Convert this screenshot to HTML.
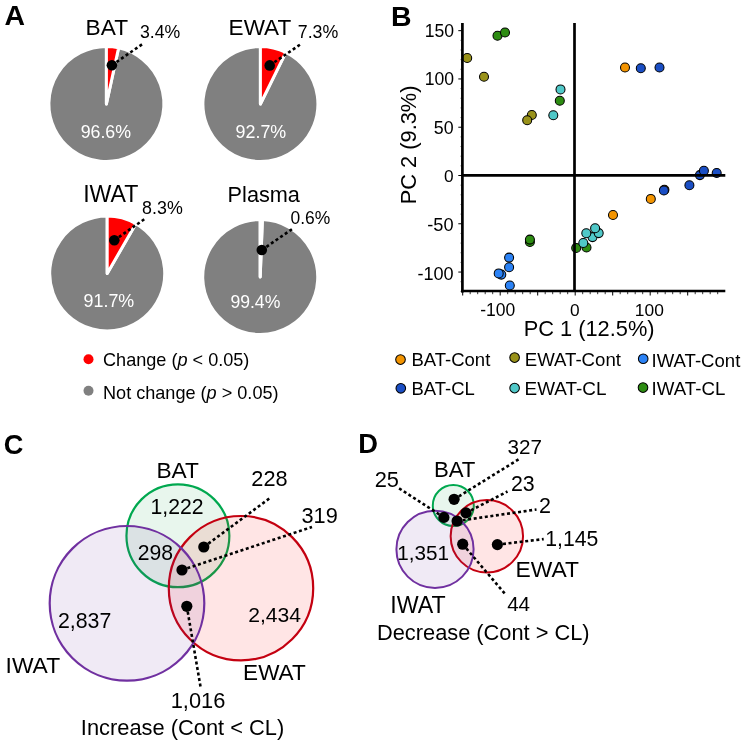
<!DOCTYPE html>
<html><head><meta charset="utf-8"><style>
html,body{margin:0;padding:0;background:#fff;width:747px;height:741px;overflow:hidden}
svg{display:block;will-change:transform}
text{font-family:"Liberation Sans",sans-serif}
</style></head><body>
<svg width="747" height="741" viewBox="0 0 747 741">
<rect width="747" height="741" fill="#fff"/>
<path d="M106.4,104 L118.59,47.81 A57.5,57.5 0 1 1 106.4,46.5 Z" fill="#808080" stroke="#fff" stroke-width="3" stroke-linejoin="round"/>
<path d="M106.4,104 L106.4,46.5 A57.5,57.5 0 0 1 118.59,47.81 Z" fill="#ff0000" stroke="#fff" stroke-width="3" stroke-linejoin="round"/>
<line x1="111.9" y1="65.2" x2="144" y2="43" stroke="#000" stroke-width="2.6" stroke-dasharray="3 2.6"/>
<circle cx="111.9" cy="65.2" r="5.3" fill="#000"/>
<path d="M260.4,104 L285.86,52.44 A57.5,57.5 0 1 1 260.4,46.5 Z" fill="#808080" stroke="#fff" stroke-width="3" stroke-linejoin="round"/>
<path d="M260.4,104 L260.4,46.5 A57.5,57.5 0 0 1 285.86,52.44 Z" fill="#ff0000" stroke="#fff" stroke-width="3" stroke-linejoin="round"/>
<line x1="269.7" y1="65.4" x2="301" y2="44" stroke="#000" stroke-width="2.6" stroke-dasharray="3 2.6"/>
<circle cx="269.7" cy="65.4" r="5.3" fill="#000"/>
<path d="M107.2,273.5 L135.85,223.64 A57.5,57.5 0 1 1 107.2,216.0 Z" fill="#808080" stroke="#fff" stroke-width="3" stroke-linejoin="round"/>
<path d="M107.2,273.5 L107.2,216.0 A57.5,57.5 0 0 1 135.85,223.64 Z" fill="#ff0000" stroke="#fff" stroke-width="3" stroke-linejoin="round"/>
<line x1="114.3" y1="240.3" x2="146" y2="218" stroke="#000" stroke-width="2.6" stroke-dasharray="3 2.6"/>
<circle cx="114.3" cy="240.3" r="5.3" fill="#000"/>
<path d="M260.2,277 L262.37,219.54 A57.5,57.5 0 1 1 260.2,219.5 Z" fill="#808080" stroke="#fff" stroke-width="3" stroke-linejoin="round"/>
<path d="M260.2,277 L260.2,219.5 A57.5,57.5 0 0 1 262.37,219.54 Z" fill="#ff0000" stroke="#fff" stroke-width="3" stroke-linejoin="round"/>
<line x1="261.8" y1="250" x2="293.3" y2="228.3" stroke="#000" stroke-width="2.6" stroke-dasharray="3 2.6"/>
<circle cx="261.8" cy="250" r="5.3" fill="#000"/>
<text x="4.57" y="25.05" font-size="28.38" font-weight="bold" fill="#000">A</text>
<text x="85.60" y="35.05" font-size="22.71" fill="#000">BAT</text>
<text x="140.03" y="38.05" font-size="17.69" fill="#000">3.4%</text>
<text x="80.65" y="137.65" font-size="17.80" fill="#fff">96.6%</text>
<text x="228.62" y="35.25" font-size="22.54" fill="#000">EWAT</text>
<text x="297.78" y="38.15" font-size="17.80" fill="#000">7.3%</text>
<text x="235.60" y="138.25" font-size="17.87" fill="#fff">92.7%</text>
<text x="83.15" y="202.40" font-size="23.15" fill="#000">IWAT</text>
<text x="142.12" y="213.50" font-size="17.85" fill="#000">8.3%</text>
<text x="83.60" y="306.75" font-size="17.87" fill="#fff">91.7%</text>
<text x="227.60" y="202.38" font-size="21.70" fill="#000">Plasma</text>
<text x="290.53" y="223.63" font-size="17.46" fill="#000">0.6%</text>
<text x="230.40" y="307.62" font-size="17.62" fill="#fff">99.4%</text>
<circle cx="88.5" cy="359.3" r="5" fill="#ff0000"/>
<circle cx="88.5" cy="390.7" r="5" fill="#808080"/>
<text x="103" y="366.3" font-size="18.1">Change (<tspan font-style="italic">p</tspan> &lt; 0.05)</text>
<text x="103" y="399.3" font-size="18.1">Not change (<tspan font-style="italic">p</tspan> &gt; 0.05)</text>
<text x="391.12" y="25.87" font-size="28.47" font-weight="bold" fill="#000">B</text>
<circle cx="467.2" cy="58.0" r="4.5" fill="#99921a" stroke="#000" stroke-width="1.05"/>
<circle cx="484" cy="76.7" r="4.5" fill="#99921a" stroke="#000" stroke-width="1.05"/>
<circle cx="531.8" cy="115" r="4.5" fill="#99921a" stroke="#000" stroke-width="1.05"/>
<circle cx="527.2" cy="120.3" r="4.5" fill="#99921a" stroke="#000" stroke-width="1.05"/>
<circle cx="497.5" cy="35.8" r="4.5" fill="#2d8c12" stroke="#000" stroke-width="1.05"/>
<circle cx="505" cy="32.5" r="4.5" fill="#2d8c12" stroke="#000" stroke-width="1.05"/>
<circle cx="560.5" cy="89.4" r="4.5" fill="#50c8c8" stroke="#000" stroke-width="1.05"/>
<circle cx="559.8" cy="100.8" r="4.5" fill="#2d8c12" stroke="#000" stroke-width="1.05"/>
<circle cx="553.3" cy="115.2" r="4.5" fill="#50c8c8" stroke="#000" stroke-width="1.05"/>
<circle cx="625" cy="67.5" r="4.5" fill="#f39400" stroke="#000" stroke-width="1.05"/>
<circle cx="640.8" cy="68.3" r="4.5" fill="#1a4ec4" stroke="#000" stroke-width="1.05"/>
<circle cx="659.5" cy="67.5" r="4.5" fill="#1a4ec4" stroke="#000" stroke-width="1.05"/>
<circle cx="699.9" cy="175.1" r="4.5" fill="#1a4ec4" stroke="#000" stroke-width="1.05"/>
<circle cx="703.9" cy="170.8" r="4.5" fill="#1a4ec4" stroke="#000" stroke-width="1.05"/>
<circle cx="716.7" cy="173" r="4.5" fill="#1a4ec4" stroke="#000" stroke-width="1.05"/>
<circle cx="689.4" cy="185.3" r="4.5" fill="#1a4ec4" stroke="#000" stroke-width="1.05"/>
<circle cx="664.4" cy="189.8" r="4.5" fill="#f39400" stroke="#000" stroke-width="1.05"/>
<circle cx="663.9" cy="190.4" r="4.5" fill="#1a4ec4" stroke="#000" stroke-width="1.05"/>
<circle cx="650.8" cy="198.9" r="4.5" fill="#f39400" stroke="#000" stroke-width="1.05"/>
<circle cx="613" cy="215" r="4.5" fill="#f39400" stroke="#000" stroke-width="1.05"/>
<circle cx="576.2" cy="247.9" r="4.5" fill="#2d8c12" stroke="#000" stroke-width="1.05"/>
<circle cx="586.5" cy="247.5" r="4.5" fill="#2d8c12" stroke="#000" stroke-width="1.05"/>
<circle cx="592.5" cy="237.1" r="4.5" fill="#50c8c8" stroke="#000" stroke-width="1.05"/>
<circle cx="598.7" cy="233.1" r="4.5" fill="#50c8c8" stroke="#000" stroke-width="1.05"/>
<circle cx="586.3" cy="233.3" r="4.5" fill="#50c8c8" stroke="#000" stroke-width="1.05"/>
<circle cx="595.1" cy="228.3" r="4.5" fill="#50c8c8" stroke="#000" stroke-width="1.05"/>
<circle cx="583.3" cy="243" r="4.5" fill="#50c8c8" stroke="#000" stroke-width="1.05"/>
<circle cx="529.9" cy="242" r="4.5" fill="#2d8c12" stroke="#000" stroke-width="1.05"/>
<circle cx="529.9" cy="239.6" r="4.5" fill="#2d8c12" stroke="#000" stroke-width="1.05"/>
<circle cx="509.1" cy="257.6" r="4.5" fill="#2b82f5" stroke="#000" stroke-width="1.05"/>
<circle cx="509.1" cy="267.3" r="4.5" fill="#2b82f5" stroke="#000" stroke-width="1.05"/>
<circle cx="501.3" cy="274.6" r="4.5" fill="#2b82f5" stroke="#000" stroke-width="1.05"/>
<circle cx="498.7" cy="273.4" r="4.5" fill="#2b82f5" stroke="#000" stroke-width="1.05"/>
<circle cx="509.8" cy="285.5" r="4.5" fill="#2b82f5" stroke="#000" stroke-width="1.05"/>
<line x1="462.70" y1="292" x2="462.70" y2="295.5" stroke="#000" stroke-width="1"/>
<line x1="470.20" y1="292" x2="470.20" y2="294.2" stroke="#000" stroke-width="0.8"/>
<line x1="477.70" y1="292" x2="477.70" y2="294.2" stroke="#000" stroke-width="0.8"/>
<line x1="485.20" y1="292" x2="485.20" y2="294.2" stroke="#000" stroke-width="0.8"/>
<line x1="492.70" y1="292" x2="492.70" y2="294.2" stroke="#000" stroke-width="0.8"/>
<line x1="500.20" y1="292" x2="500.20" y2="295.5" stroke="#000" stroke-width="1"/>
<line x1="507.70" y1="292" x2="507.70" y2="294.2" stroke="#000" stroke-width="0.8"/>
<line x1="515.20" y1="292" x2="515.20" y2="294.2" stroke="#000" stroke-width="0.8"/>
<line x1="522.70" y1="292" x2="522.70" y2="294.2" stroke="#000" stroke-width="0.8"/>
<line x1="530.20" y1="292" x2="530.20" y2="294.2" stroke="#000" stroke-width="0.8"/>
<line x1="537.70" y1="292" x2="537.70" y2="295.5" stroke="#000" stroke-width="1"/>
<line x1="545.20" y1="292" x2="545.20" y2="294.2" stroke="#000" stroke-width="0.8"/>
<line x1="552.70" y1="292" x2="552.70" y2="294.2" stroke="#000" stroke-width="0.8"/>
<line x1="560.20" y1="292" x2="560.20" y2="294.2" stroke="#000" stroke-width="0.8"/>
<line x1="567.70" y1="292" x2="567.70" y2="294.2" stroke="#000" stroke-width="0.8"/>
<line x1="575.20" y1="292" x2="575.20" y2="295.5" stroke="#000" stroke-width="1"/>
<line x1="582.70" y1="292" x2="582.70" y2="294.2" stroke="#000" stroke-width="0.8"/>
<line x1="590.20" y1="292" x2="590.20" y2="294.2" stroke="#000" stroke-width="0.8"/>
<line x1="597.70" y1="292" x2="597.70" y2="294.2" stroke="#000" stroke-width="0.8"/>
<line x1="605.20" y1="292" x2="605.20" y2="294.2" stroke="#000" stroke-width="0.8"/>
<line x1="612.70" y1="292" x2="612.70" y2="295.5" stroke="#000" stroke-width="1"/>
<line x1="620.20" y1="292" x2="620.20" y2="294.2" stroke="#000" stroke-width="0.8"/>
<line x1="627.70" y1="292" x2="627.70" y2="294.2" stroke="#000" stroke-width="0.8"/>
<line x1="635.20" y1="292" x2="635.20" y2="294.2" stroke="#000" stroke-width="0.8"/>
<line x1="642.70" y1="292" x2="642.70" y2="294.2" stroke="#000" stroke-width="0.8"/>
<line x1="650.20" y1="292" x2="650.20" y2="295.5" stroke="#000" stroke-width="1"/>
<line x1="657.70" y1="292" x2="657.70" y2="294.2" stroke="#000" stroke-width="0.8"/>
<line x1="665.20" y1="292" x2="665.20" y2="294.2" stroke="#000" stroke-width="0.8"/>
<line x1="672.70" y1="292" x2="672.70" y2="294.2" stroke="#000" stroke-width="0.8"/>
<line x1="680.20" y1="292" x2="680.20" y2="294.2" stroke="#000" stroke-width="0.8"/>
<line x1="687.70" y1="292" x2="687.70" y2="295.5" stroke="#000" stroke-width="1"/>
<line x1="695.20" y1="292" x2="695.20" y2="294.2" stroke="#000" stroke-width="0.8"/>
<line x1="702.70" y1="292" x2="702.70" y2="294.2" stroke="#000" stroke-width="0.8"/>
<line x1="710.20" y1="292" x2="710.20" y2="294.2" stroke="#000" stroke-width="0.8"/>
<line x1="717.70" y1="292" x2="717.70" y2="294.2" stroke="#000" stroke-width="0.8"/>
<line x1="460" y1="291.37" x2="462" y2="291.37" stroke="#000" stroke-width="0.7" stroke-opacity="0.4"/>
<line x1="460" y1="281.72" x2="462" y2="281.72" stroke="#000" stroke-width="0.7" stroke-opacity="0.4"/>
<line x1="458.3" y1="272.06" x2="462" y2="272.06" stroke="#000" stroke-width="1"/>
<line x1="460" y1="262.40" x2="462" y2="262.40" stroke="#000" stroke-width="0.7" stroke-opacity="0.4"/>
<line x1="460" y1="252.75" x2="462" y2="252.75" stroke="#000" stroke-width="0.7" stroke-opacity="0.4"/>
<line x1="460" y1="243.09" x2="462" y2="243.09" stroke="#000" stroke-width="0.7" stroke-opacity="0.4"/>
<line x1="460" y1="233.44" x2="462" y2="233.44" stroke="#000" stroke-width="0.7" stroke-opacity="0.4"/>
<line x1="458.3" y1="223.78" x2="462" y2="223.78" stroke="#000" stroke-width="1"/>
<line x1="460" y1="214.12" x2="462" y2="214.12" stroke="#000" stroke-width="0.7" stroke-opacity="0.4"/>
<line x1="460" y1="204.47" x2="462" y2="204.47" stroke="#000" stroke-width="0.7" stroke-opacity="0.4"/>
<line x1="460" y1="194.81" x2="462" y2="194.81" stroke="#000" stroke-width="0.7" stroke-opacity="0.4"/>
<line x1="460" y1="185.16" x2="462" y2="185.16" stroke="#000" stroke-width="0.7" stroke-opacity="0.4"/>
<line x1="458.3" y1="175.50" x2="462" y2="175.50" stroke="#000" stroke-width="1"/>
<line x1="460" y1="165.84" x2="462" y2="165.84" stroke="#000" stroke-width="0.7" stroke-opacity="0.4"/>
<line x1="460" y1="156.19" x2="462" y2="156.19" stroke="#000" stroke-width="0.7" stroke-opacity="0.4"/>
<line x1="460" y1="146.53" x2="462" y2="146.53" stroke="#000" stroke-width="0.7" stroke-opacity="0.4"/>
<line x1="460" y1="136.88" x2="462" y2="136.88" stroke="#000" stroke-width="0.7" stroke-opacity="0.4"/>
<line x1="458.3" y1="127.22" x2="462" y2="127.22" stroke="#000" stroke-width="1"/>
<line x1="460" y1="117.56" x2="462" y2="117.56" stroke="#000" stroke-width="0.7" stroke-opacity="0.4"/>
<line x1="460" y1="107.91" x2="462" y2="107.91" stroke="#000" stroke-width="0.7" stroke-opacity="0.4"/>
<line x1="460" y1="98.25" x2="462" y2="98.25" stroke="#000" stroke-width="0.7" stroke-opacity="0.4"/>
<line x1="460" y1="88.60" x2="462" y2="88.60" stroke="#000" stroke-width="0.7" stroke-opacity="0.4"/>
<line x1="458.3" y1="78.94" x2="462" y2="78.94" stroke="#000" stroke-width="1"/>
<line x1="460" y1="69.28" x2="462" y2="69.28" stroke="#000" stroke-width="0.7" stroke-opacity="0.4"/>
<line x1="460" y1="59.63" x2="462" y2="59.63" stroke="#000" stroke-width="0.7" stroke-opacity="0.4"/>
<line x1="460" y1="49.97" x2="462" y2="49.97" stroke="#000" stroke-width="0.7" stroke-opacity="0.4"/>
<line x1="460" y1="40.32" x2="462" y2="40.32" stroke="#000" stroke-width="0.7" stroke-opacity="0.4"/>
<line x1="458.3" y1="30.66" x2="462" y2="30.66" stroke="#000" stroke-width="1"/>
<line x1="462.4" y1="23.1" x2="462.4" y2="292.4" stroke="#000" stroke-width="2.7"/>
<line x1="461" y1="291" x2="725.3" y2="291" stroke="#000" stroke-width="2.7"/>
<line x1="574.5" y1="23.1" x2="574.5" y2="291" stroke="#000" stroke-width="2.7"/>
<line x1="462" y1="175.3" x2="725.3" y2="175.3" stroke="#000" stroke-width="2.7"/>
<text x="424.63" y="36.52" font-size="17.58" fill="#000">150</text>
<text x="424.63" y="85.28" font-size="17.58" fill="#000">100</text>
<text x="433.82" y="133.75" font-size="17.81" fill="#000">50</text>
<text x="444.05" y="182.20" font-size="17.28" fill="#000">0</text>
<text x="427.32" y="230.98" font-size="18.22" fill="#000">-50</text>
<text x="417.48" y="279.60" font-size="18.10" fill="#000">-100</text>
<text x="480.20" y="315.90" font-size="17.51" fill="#000">-100</text>
<text x="569.98" y="315.65" font-size="17.28" fill="#000">0</text>
<text x="634.82" y="315.75" font-size="17.39" fill="#000">100</text>
<text x="523.70" y="336.02" font-size="21.81" fill="#000">PC 1 (12.5%)</text>
<text transform="translate(415.5,144.9) rotate(-90)" font-size="21.84" text-anchor="middle">PC 2 (9.3%)</text>
<circle cx="400.5" cy="359.6" r="4.8" fill="#f39400" stroke="#000" stroke-width="1.05"/>
<circle cx="400.8" cy="388.3" r="4.8" fill="#1a4ec4" stroke="#000" stroke-width="1.05"/>
<circle cx="514.6" cy="357.6" r="4.8" fill="#99921a" stroke="#000" stroke-width="1.05"/>
<circle cx="514.6" cy="388.1" r="4.8" fill="#50c8c8" stroke="#000" stroke-width="1.05"/>
<circle cx="643.2" cy="358.7" r="4.8" fill="#2b82f5" stroke="#000" stroke-width="1.05"/>
<circle cx="643" cy="387.6" r="4.8" fill="#2d8c12" stroke="#000" stroke-width="1.05"/>
<text x="411.42" y="366.00" font-size="18.52" fill="#000">BAT-Cont</text>
<text x="411.50" y="395.00" font-size="18.48" fill="#000">BAT-CL</text>
<text x="524.75" y="366.10" font-size="18.62" fill="#000">EWAT-Cont</text>
<text x="524.62" y="395.12" font-size="18.92" fill="#000">EWAT-CL</text>
<text x="651.62" y="366.50" font-size="18.57" fill="#000">IWAT-Cont</text>
<text x="651.62" y="395.25" font-size="18.69" fill="#000">IWAT-CL</text>
<text x="3.75" y="454.03" font-size="27.17" font-weight="bold" fill="#000">C</text>
<circle cx="177.9" cy="535.75" r="51.45" fill="#1ea54b" fill-opacity="0.10" stroke="#00a84f" stroke-width="2.2"/>
<circle cx="241" cy="588.2" r="72.2" fill="#ff0000" fill-opacity="0.10" stroke="#c40010" stroke-width="2.2"/>
<circle cx="127" cy="603.3" r="77.3" fill="#7030a0" fill-opacity="0.10" stroke="#7030a0" stroke-width="2.2"/>
<line x1="203.8" y1="547" x2="270" y2="498" stroke="#000" stroke-width="2.6" stroke-dasharray="3 2.6"/>
<line x1="182" y1="570" x2="312" y2="527" stroke="#000" stroke-width="2.6" stroke-dasharray="3 2.6"/>
<line x1="186.8" y1="606.3" x2="200.5" y2="686.7" stroke="#000" stroke-width="2.6" stroke-dasharray="3 2.6"/>
<circle cx="203.8" cy="547" r="5.6" fill="#000"/>
<circle cx="182" cy="570" r="5.6" fill="#000"/>
<circle cx="186.8" cy="606.3" r="5.6" fill="#000"/>
<text x="156.48" y="478.25" font-size="22.71" fill="#000">BAT</text>
<text x="150.58" y="513.98" font-size="21.20" fill="#000">1,222</text>
<text x="251.37" y="486.13" font-size="21.72" fill="#000">228</text>
<text x="137.65" y="559.52" font-size="21.18" fill="#000">298</text>
<text x="301.50" y="522.50" font-size="21.72" fill="#000">319</text>
<text x="248.25" y="621.71" font-size="21.13" fill="#000">2,434</text>
<text x="243.12" y="680.25" font-size="22.54" fill="#000">EWAT</text>
<text x="57.88" y="627.73" font-size="21.33" fill="#000">2,837</text>
<text x="5.57" y="672.73" font-size="22.84" fill="#000">IWAT</text>
<text x="170.70" y="707.98" font-size="21.84" fill="#000">1,016</text>
<text x="80.85" y="734.58" font-size="21.85" fill="#000">Increase (Cont &lt; CL)</text>
<text x="358.30" y="453.30" font-size="27.32" font-weight="bold" fill="#000">D</text>
<circle cx="453.3" cy="505.5" r="20.5" fill="#1ea54b" fill-opacity="0.10" stroke="#00a84f" stroke-width="2.0"/>
<circle cx="486.85" cy="536.3" r="36.2" fill="#ff0000" fill-opacity="0.10" stroke="#c40010" stroke-width="2.0"/>
<circle cx="435" cy="549.3" r="38.6" fill="#7030a0" fill-opacity="0.10" stroke="#7030a0" stroke-width="2.0"/>
<line x1="454.1" y1="499.3" x2="520.3" y2="458.3" stroke="#000" stroke-width="2.6" stroke-dasharray="3 2.6"/>
<line x1="466" y1="512.9" x2="507.5" y2="491.5" stroke="#000" stroke-width="2.6" stroke-dasharray="3 2.6"/>
<line x1="457.1" y1="521" x2="536.5" y2="509.5" stroke="#000" stroke-width="2.6" stroke-dasharray="3 2.6"/>
<line x1="443.9" y1="517.4" x2="397.8" y2="487.5" stroke="#000" stroke-width="2.6" stroke-dasharray="3 2.6"/>
<line x1="462.7" y1="544.2" x2="506.2" y2="595.2" stroke="#000" stroke-width="2.6" stroke-dasharray="3 2.6"/>
<line x1="497.4" y1="544.6" x2="543.7" y2="539.1" stroke="#000" stroke-width="2.6" stroke-dasharray="3 2.6"/>
<circle cx="454.1" cy="499.3" r="5.6" fill="#000"/>
<circle cx="466" cy="512.9" r="5.6" fill="#000"/>
<circle cx="443.9" cy="517.4" r="5.6" fill="#000"/>
<circle cx="457.1" cy="521" r="5.6" fill="#000"/>
<circle cx="462.7" cy="544.2" r="5.6" fill="#000"/>
<circle cx="497.4" cy="544.6" r="5.6" fill="#000"/>
<text x="374.63" y="487.38" font-size="21.84" fill="#000">25</text>
<text x="433.88" y="476.78" font-size="22.23" fill="#000">BAT</text>
<text x="507.53" y="454.15" font-size="20.64" fill="#000">327</text>
<text x="510.88" y="490.60" font-size="21.35" fill="#000">23</text>
<text x="539.02" y="513.05" font-size="21.51" fill="#000">2</text>
<text x="397.25" y="560.45" font-size="20.70" fill="#000">1,351</text>
<text x="545.28" y="546.31" font-size="21.19" fill="#000">1,145</text>
<text x="515.55" y="576.63" font-size="22.84" fill="#000">EWAT</text>
<text x="390.37" y="613.05" font-size="23.19" fill="#000">IWAT</text>
<text x="507.15" y="611.10" font-size="20.64" fill="#000">44</text>
<text x="377.00" y="639.77" font-size="21.81" fill="#000">Decrease (Cont &gt; CL)</text>
</svg></body></html>
